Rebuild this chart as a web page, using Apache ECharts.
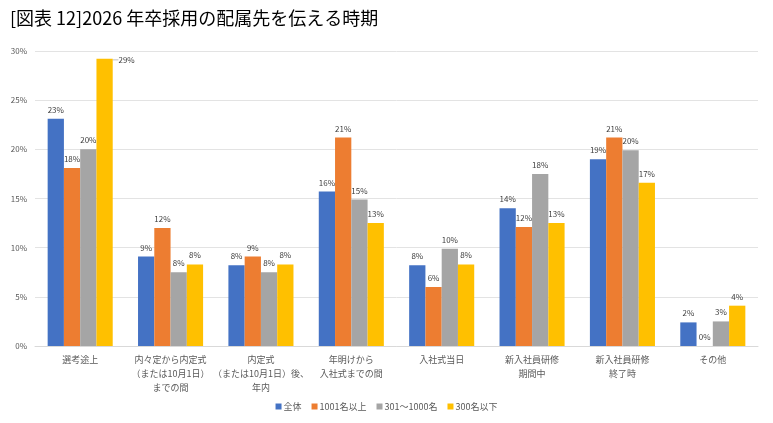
<!DOCTYPE html>
<html>
<head>
<meta charset="utf-8">
<script src="https://cdn.jsdelivr.net/npm/echarts@6/dist/echarts.min.js"></script>
<style>
  html, body { margin: 0; padding: 0; background: #fff; }
  #chart { width: 773px; height: 423px; }
</style>
</head>
<body>
<div id="chart"></div>
<script>
const categories = [
    '選考途上',
    '内々定から内定式\n（または10月1日）\nまでの間',
    '内定式\n（または10月1日）後、\n年内',
    '年明けから\n入社式までの間',
    '入社式当日',
    '新入社員研修\n期間中',
    '新入社員研修\n終了時',
    'その他'
]

const seriesNames = ['全体', '1001名以上', '301〜1000名', '300名以下']

// 値は %
const allData = [23.1, 9.1, 8.2, 15.7, 8.2, 14.0, 19.0, 2.4]
const bigData = [18.1, 12.0, 9.1, 21.2, 6.0, 12.1, 21.2, 0]
const midData = [20.0, 7.5, 7.5, 14.9, 9.9, 17.5, 19.9, 2.5]
const smallData = [29.2, 8.3, 8.3, 12.5, 8.3, 12.5, 16.6, 4.1]

const yTicks = [0, 5, 10, 15, 20, 25, 30]

const colors = ['#4472C4', '#ED7D31', '#A5A5A5', '#FFC000']
const FONT = '"Noto Sans CJK JP", "Noto Sans", sans-serif'

const chart = echarts.init(document.getElementById('chart'))

const makeSeries = (name, data, idx) => ({
    name: name,
    type: 'bar',
    // 300名以下の 29% だけ引き出し線つき
    data: data.map((v, i) => (idx === 3 && i === 0 ? { value: v, labelLine: { show: true } } : v)),
    barGap: '0%',
    barCategoryGap: '28%',
    itemStyle: { color: colors[idx] },
    label: {
        show: true,
        position: 'top',
        distance: 5,
        color: '#404040',
        fontSize: 8,
        fontFamily: FONT,
        formatter: p => Math.round(p.value) + '%'
    },
    labelLine: { show: false, lineStyle: { color: '#bfbfbf', width: 1 }, length2: 0 },
    labelLayout: idx === 3 ? (p => (p.dataIndex === 0 ? { dx: 22, dy: 10 } : {})) : undefined
})

chart.setOption({
    textStyle: { fontFamily: FONT },
    title: {
        text: '[図表 12]2026 年卒採用の配属先を伝える時期',
        left: 5,
        top: 4,
        textStyle: { fontFamily: FONT, fontSize: 18, fontWeight: 'normal', color: '#000' }
    },
    grid: { left: 35, right: 15, top: 51, bottom: 77 },
    legend: {
        bottom: 7,
        left: 'center',
        itemWidth: 6,
        itemHeight: 6,
        itemGap: 10,
        icon: 'rect',
        textStyle: { fontSize: 9, color: '#595959', fontFamily: FONT, padding: [0, 0, 0, -3] },
        data: seriesNames
    },
    xAxis: {
        type: 'category',
        data: categories,
        axisLine: { show: true, lineStyle: { color: '#d9d9d9' } },
        axisTick: { show: false },
        axisLabel: {
            color: '#595959',
            fontSize: 9,
            lineHeight: 14,
            margin: 7,
            interval: 0,
            fontFamily: FONT
        }
    },
    yAxis: {
        type: 'value',
        min: yTicks[0],
        max: yTicks[yTicks.length - 1],
        interval: 5,
        axisLine: { show: false },
        axisTick: { show: false },
        splitLine: { lineStyle: { color: '#e3e3e3' } },
        axisLabel: {
            color: '#595959',
            fontSize: 8,
            margin: 8,
            fontFamily: FONT,
            formatter: v => v + '%'
        }
    },
    series: [
        makeSeries(seriesNames[0], allData, 0),
        makeSeries(seriesNames[1], bigData, 1),
        makeSeries(seriesNames[2], midData, 2),
        makeSeries(seriesNames[3], smallData, 3)
    ]
})
</script>
</body>
</html>
